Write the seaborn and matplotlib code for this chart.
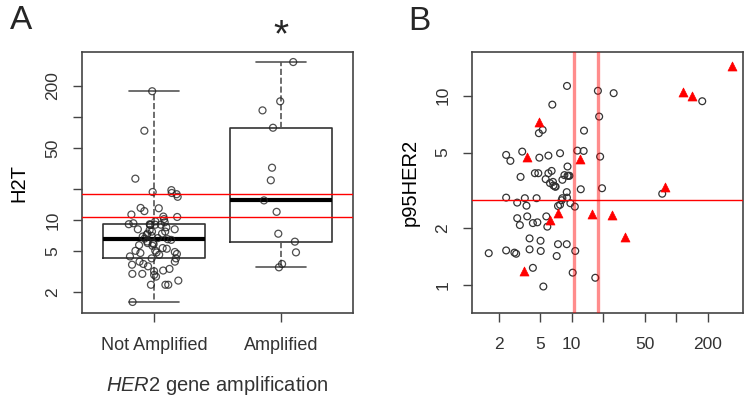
import numpy as np
import pandas as pd
import seaborn as sns
import matplotlib.pyplot as plt

# Groups for panel A
groups = ['Not Amplified', 'Amplified']

# HER2 not amplified patients: H2T and p95HER2 (open circles)
h2t_not_amp = [1.60, 2.35, 2.35, 2.35, 2.58, 2.82, 2.93, 3.00, 3.00, 3.18,
               3.23, 3.35, 3.55, 3.68, 3.74, 3.94, 3.94, 4.24, 4.24, 4.43,
               4.60, 4.68, 4.78, 4.84, 4.89, 5.02, 5.04, 5.26, 5.34, 5.62,
               5.70, 5.83, 5.97, 5.97, 6.18, 6.41, 6.51, 6.60, 6.67, 6.91,
               7.00, 7.17, 7.38, 7.38, 7.72, 7.72, 8.00, 8.13, 8.13, 8.50,
               8.95, 8.95, 9.00, 9.00, 9.10, 9.10, 9.30, 9.50, 9.70, 10.2,
               10.7, 10.8, 11.3, 12.2, 13.0, 13.1, 16.8, 17.8, 18.3, 18.7,
               19.5, 25.2, 73.6, 178]
p95_not_amp = [1.47, 4.86, 2.89, 1.52, 4.52, 1.48, 1.46, 2.72, 2.25, 2.07,
               3.72, 5.06, 2.87, 2.62, 2.30, 1.76, 1.54, 1.23, 2.12, 3.89,
               2.87, 2.14, 3.89, 6.33, 4.70, 1.71, 1.51, 6.59, 0.98, 3.62,
               2.30, 2.03, 3.89, 4.82, 3.45, 4.00, 8.96, 3.50, 3.35, 3.31,
               3.30, 1.42, 1.64, 2.61, 4.96, 2.65, 2.80, 2.87, 3.59, 3.80,
               1.64, 3.09, 11.25, 2.89, 4.22, 3.77, 3.77, 3.77, 2.70, 1.16,
               2.59, 1.51, 5.12, 3.20, 5.10, 6.53, 1.09, 10.6, 7.75, 4.76,
               3.24, 10.3, 3.03, 9.34]

# HER2 amplified patients (red triangles)
h2t_amp = [342, 142, 116, 78.7, 32.2, 24.3, 15.5, 12.0, 7.36, 6.16, 4.85, 3.74, 3.47]
p95_amp = [14.4, 10.0, 10.4, 3.28, 1.79, 2.33, 2.38, 4.65, 2.39, 2.20, 7.23, 4.76, 1.19]

# cut-offs (red lines)
h2t_cutoffs = [10.6, 17.9]
p95_cutoff = 2.8

log_ticks = [2, 5, 10, 20, 50, 100, 200]
log_tick_labels = ['2', '5', '10', '', '50', '', '200']
p95_ticks = [1, 2, 5, 10]

sns.set_theme(style='white')
plt.rcParams['font.family'] = ['Liberation Sans', 'DejaVu Sans']
plt.rcParams['mathtext.fontset'] = 'custom'
plt.rcParams['mathtext.rm'] = 'Liberation Sans'
plt.rcParams['mathtext.it'] = 'Liberation Sans:italic'

frame_col = '#444444'
text_col = '#333333'

fig = plt.figure(figsize=(7.5, 4), dpi=100)
ax_a = fig.add_axes([0.109, 0.2175, 0.362, 0.6525])
ax_b = fig.add_axes([0.629, 0.2175, 0.362, 0.6525])

# ---- Panel A: boxplot + jittered points
df_a = pd.DataFrame({
    'group': [groups[0]] * len(h2t_not_amp) + [groups[1]] * len(h2t_amp),
    'H2T': h2t_not_amp + h2t_amp,
})

sns.boxplot(data=df_a, x='group', y='H2T', order=groups, whis=(0, 100),
            width=0.8, log_scale=True, fill=False, color='#333333',
            linewidth=1.2, showfliers=False,
            medianprops=dict(color='black', linewidth=3),
            whiskerprops=dict(linestyle='--', color='#555555'),
            capprops=dict(color='#555555'),
            ax=ax_a)

np.random.seed(7)
sns.stripplot(data=df_a, x='group', y='H2T', order=groups, jitter=0.2,
              log_scale=True, color='none', edgecolor='#222222', linewidth=0.9,
              size=5, alpha=0.8, zorder=3, ax=ax_a)

for c in h2t_cutoffs:
    ax_a.axhline(c, color='red', lw=1, zorder=4)

ax_a.set_xlim(-0.57, 1.57)
ax_a.set_ylim(1.25, 428)
ax_a.set_yticks(log_ticks)
ax_a.set_yticklabels(log_tick_labels)
ax_a.yaxis.set_minor_locator(plt.NullLocator())
ax_a.set_ylabel('H2T', fontsize=14.5, color='black', labelpad=12)
ax_a.set_xlabel(r'$\it{HER2}$ gene amplification', fontsize=14.5, color=text_col, labelpad=14)

# ---- Panel B: scatter
sns.scatterplot(x=h2t_not_amp, y=p95_not_amp, marker='o', color='none',
                edgecolor='#333333', linewidth=0.9, s=24, ax=ax_b)
sns.scatterplot(x=h2t_amp, y=p95_amp, marker='^', color='red',
                edgecolor='red', linewidth=0.5, s=42, zorder=3, ax=ax_b)
ax_b.set_xscale('log')
ax_b.set_yscale('log')

for c in h2t_cutoffs:
    ax_b.axvline(c, color='red', alpha=0.45, lw=2.4, zorder=4)
ax_b.axhline(p95_cutoff, color='red', lw=1, zorder=4)

ax_b.set_xlim(1.1, 440)
ax_b.set_ylim(0.71, 17)
ax_b.set_xticks(log_ticks)
ax_b.set_xticklabels(log_tick_labels)
ax_b.set_yticks(p95_ticks)
ax_b.set_yticklabels([str(t) for t in p95_ticks])
ax_b.xaxis.set_minor_locator(plt.NullLocator())
ax_b.yaxis.set_minor_locator(plt.NullLocator())
ax_b.set_ylabel('p95HER2', fontsize=14.5, color='black', labelpad=11)

for ax in (ax_a, ax_b):
    for s in ax.spines.values():
        s.set_color(frame_col)
        s.set_linewidth(1.2)
    ax.tick_params(axis='both', length=6.5, width=1, color=frame_col,
                   labelsize=12.5, labelcolor=text_col, pad=9,
                   bottom=True, left=True)
    ax.tick_params(axis='x', pad=11)
    for lab in ax.get_yticklabels():
        lab.set_rotation(90)
        lab.set_va('center')
ax_a.tick_params(axis='x', labelsize=13)

fig.text(0.013, 0.9275, 'A', fontsize=24, va='baseline')
fig.text(0.544, 0.925, 'B', fontsize=24, va='baseline')
ax_a.text(1, 1.062, '*', transform=ax_a.get_xaxis_transform(), fontsize=28,
          ha='center', va='center')

fig.savefig('out.png', dpi=100)
